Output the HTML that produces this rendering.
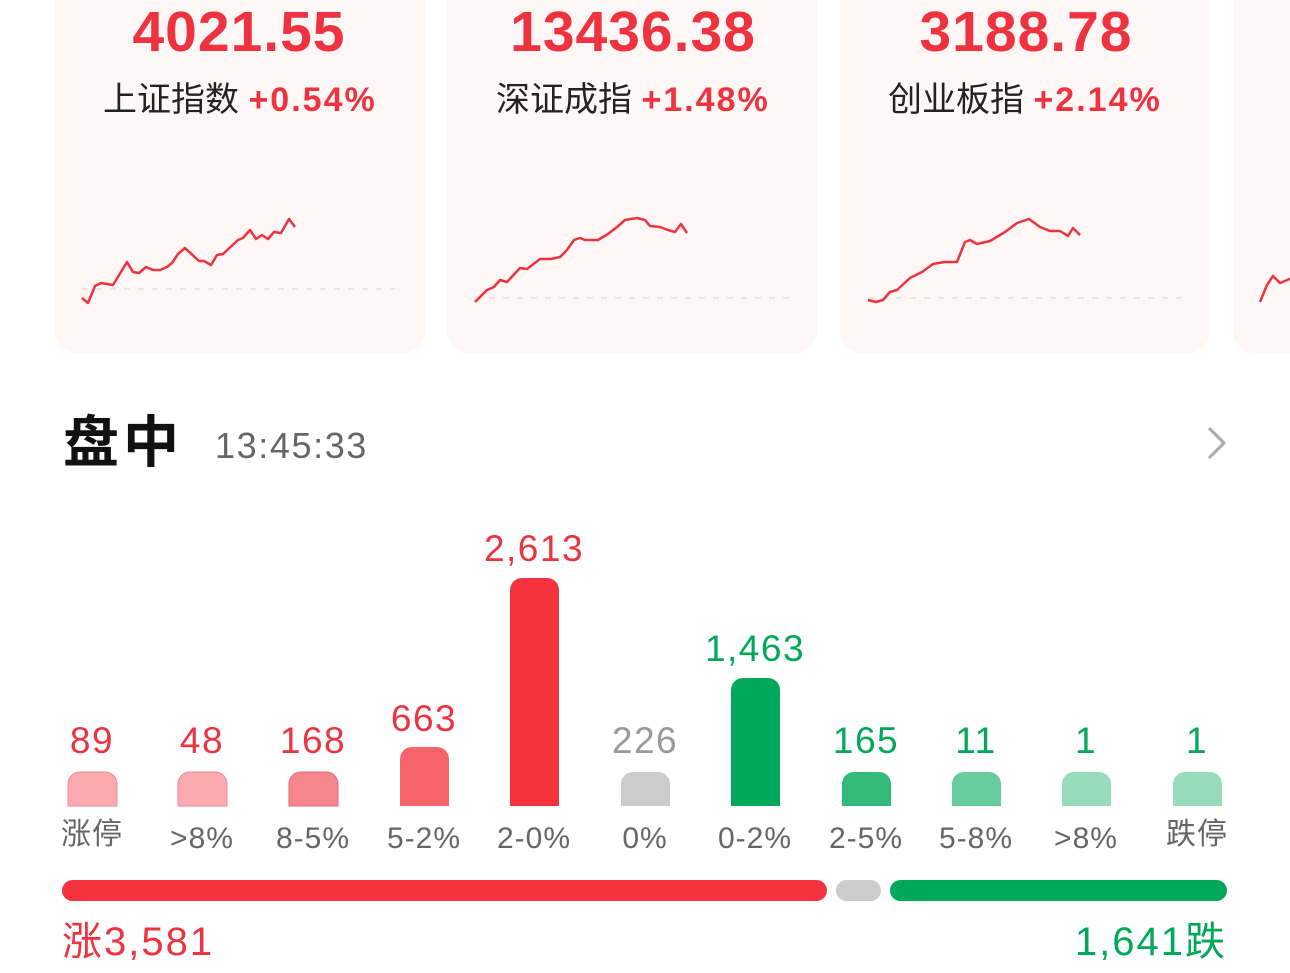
<!DOCTYPE html>
<html><head><meta charset="utf-8"><style>
body{margin:0;background:#fff;width:1290px;height:968px;overflow:hidden}
svg text{font-family:"Liberation Sans","Noto Sans CJK SC",sans-serif}
</style></head><body>
<svg width="1290" height="968" viewBox="0 0 1290 968" xmlns="http://www.w3.org/2000/svg">
<g fill="#fff6f6">
<rect x="55" y="-30" width="370" height="383" rx="22"/>
<rect x="447" y="-30" width="370" height="383" rx="22"/>
<rect x="840" y="-30" width="370" height="383" rx="22"/>
<rect x="1233" y="-30" width="100" height="383" rx="22"/>
</g>
<g fill="#ee3340" font-weight="bold" font-size="57" text-anchor="middle" letter-spacing="1">
<text x="239" y="51">4021.55</text>
<text x="633" y="51">13436.38</text>
<text x="1026" y="51">3188.78</text>
</g>
<g font-size="34">
<text x="103" y="111" fill="#222">上证指数 <tspan fill="#ee3340" font-weight="bold" font-size="34" letter-spacing="2">+0.54%</tspan></text>
<text x="496" y="111" fill="#222">深证成指 <tspan fill="#ee3340" font-weight="bold" font-size="34" letter-spacing="2">+1.48%</tspan></text>
<text x="888" y="111" fill="#222">创业板指 <tspan fill="#ee3340" font-weight="bold" font-size="34" letter-spacing="2">+2.14%</tspan></text>
</g>
<g stroke="#e6dede" stroke-width="1.5" stroke-dasharray="6 8">
<line x1="82" y1="289" x2="395" y2="289"/>
<line x1="475" y1="298" x2="790" y2="298"/>
<line x1="868" y1="298" x2="1182" y2="298"/>
</g>
<g fill="none" stroke="#ee3340" stroke-width="2.5" stroke-linejoin="round">
<polyline points="82,298 88,303 95,286 101,283 113,285 127,262 133,272 139,273 146,267 153,270 160,270 167,267 172,263 178,254 185,248 199,261 204,261 211,265 217,255 223,254 238,240 243,238 250,230 256,239 262,235 268,239 274,232 281,233 289,219 295,227"/>
<polyline points="475,302 487,290 494,287 500,280 507,282 520,268 527,269 540,259 551,259 560,257 567,250 574,240 580,238 585,240 598,240 608,234 617,227 625,220 637,218 645,220 650,226 660,227 668,230 675,232 681,224 687,233"/>
<polyline points="868,300 876,302 883,300 890,292 897,290 910,278 916,275 922,272 933,264 945,262 957,262 965,242 970,240 977,244 990,241 1005,232 1017,223 1029,219 1040,227 1050,231 1060,231 1068,236 1073,228 1080,235"/>
<polyline points="1260,302 1267,285 1273,276 1280,283 1292,278"/>
</g>
<text x="63" y="462" font-size="56" font-weight="bold" fill="#111" letter-spacing="4">盘中</text>
<text x="215" y="458" font-size="36" fill="#666" letter-spacing="1.6">13:45:33</text>
<polyline points="1209,428 1224,443 1209,458" fill="none" stroke="#aaa" stroke-width="3"/>
<g>
<path d="M68,806 V784 a12,12 0 0 1 12,-12 H105 a12,12 0 0 1 12,12 V806Z" fill="#fbaab0" stroke="#f18a93"/>
<path d="M178,806 V784 a12,12 0 0 1 12,-12 H215 a12,12 0 0 1 12,12 V806Z" fill="#fbaab0" stroke="#f18a93"/>
<path d="M289,806 V784 a12,12 0 0 1 12,-12 H326 a12,12 0 0 1 12,12 V806Z" fill="#f7858d" stroke="#e66a74"/>
<path d="M400,806 V759 a12,12 0 0 1 12,-12 H437 a12,12 0 0 1 12,12 V806Z" fill="#f7636b"/>
<path d="M510,806 V590 a12,12 0 0 1 12,-12 H547 a12,12 0 0 1 12,12 V806Z" fill="#f5333f"/>
<path d="M621,806 V784 a12,12 0 0 1 12,-12 H658 a12,12 0 0 1 12,12 V806Z" fill="#cccccc"/>
<path d="M731,806 V690 a12,12 0 0 1 12,-12 H768 a12,12 0 0 1 12,12 V806Z" fill="#00a85a"/>
<path d="M842,806 V784 a12,12 0 0 1 12,-12 H879 a12,12 0 0 1 12,12 V806Z" fill="#33b97a"/>
<path d="M952,806 V784 a12,12 0 0 1 12,-12 H989 a12,12 0 0 1 12,12 V806Z" fill="#66cc9c"/>
<path d="M1062,806 V784 a12,12 0 0 1 12,-12 H1099 a12,12 0 0 1 12,12 V806Z" fill="#99dcbc"/>
<path d="M1173,806 V784 a12,12 0 0 1 12,-12 H1210 a12,12 0 0 1 12,12 V806Z" fill="#99dcbc"/>
</g>
<g font-size="37" text-anchor="middle" letter-spacing="1.5">
<text x="92" y="753" fill="#ee3340">89</text>
<text x="202" y="753" fill="#ee3340">48</text>
<text x="313" y="753" fill="#ee3340">168</text>
<text x="424" y="731" fill="#ee3340">663</text>
<text x="534" y="561" fill="#ee3340">2,613</text>
<text x="645" y="753" fill="#999">226</text>
<text x="755" y="661" fill="#00a85a">1,463</text>
<text x="866" y="753" fill="#00a85a">165</text>
<text x="976" y="753" fill="#00a85a">11</text>
<text x="1086" y="753" fill="#00a85a">1</text>
<text x="1197" y="753" fill="#00a85a">1</text>
</g>
<g font-size="30" text-anchor="middle" fill="#666" letter-spacing="1">
<text x="92" y="844">涨停</text>
<text x="202" y="848">&gt;8%</text>
<text x="313" y="848">8-5%</text>
<text x="424" y="848">5-2%</text>
<text x="534" y="848">2-0%</text>
<text x="645" y="848">0%</text>
<text x="755" y="848">0-2%</text>
<text x="866" y="848">2-5%</text>
<text x="976" y="848">5-8%</text>
<text x="1086" y="848">&gt;8%</text>
<text x="1197" y="844">跌停</text>
</g>
<rect x="62" y="880" width="765" height="21" rx="10.5" fill="#f5333f"/>
<rect x="836" y="880" width="45" height="21" rx="10.5" fill="#cccccc"/>
<rect x="890" y="880" width="337" height="21" rx="10.5" fill="#00a85a"/>
<text x="62" y="955" font-size="40" fill="#ee3340" letter-spacing="2">涨3,581</text>
<text x="1227" y="955" font-size="40" fill="#00a85a" text-anchor="end" letter-spacing="2">1,641跌</text>
</svg>
</body></html>
